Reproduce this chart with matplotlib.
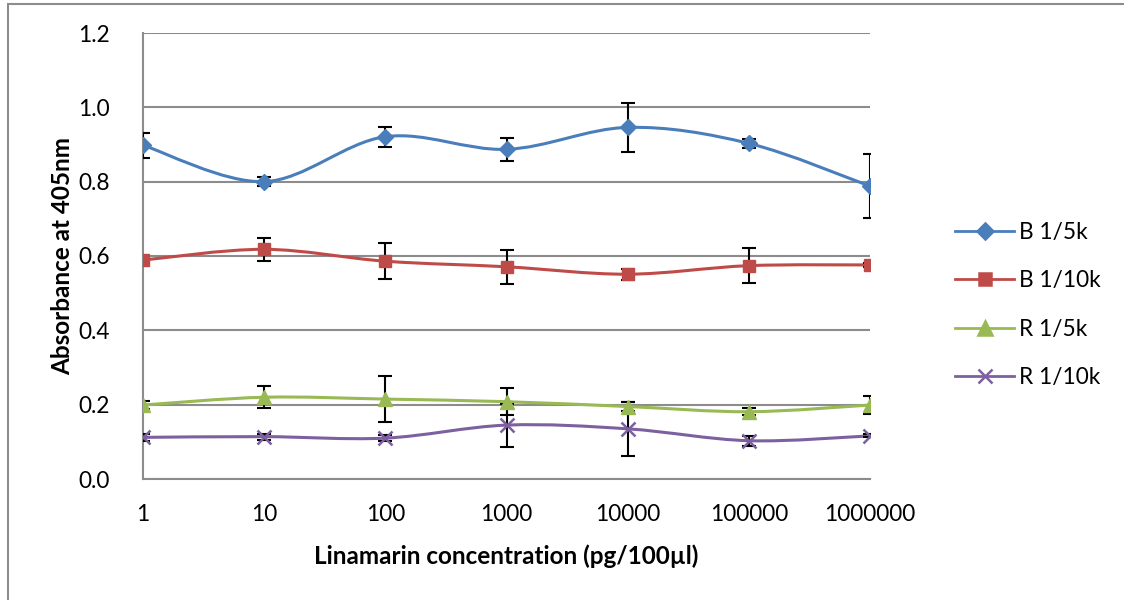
import numpy as np
import matplotlib.pyplot as plt
from matplotlib.path import Path
from matplotlib.patches import PathPatch, Rectangle
from matplotlib.lines import Line2D

plt.rcParams['font.family'] = ['Lato', 'DejaVu Sans']

# concentrations (pg/100ul) shown as category labels
concentrations = ['1', '10', '100', '1000', '10000', '100000', '1000000']

b_5k = [0.898, 0.800, 0.921, 0.887, 0.946, 0.903, 0.788]
b_5k_err = [0.034, 0.013, 0.027, 0.031, 0.065, 0.012, 0.087]

b_10k = [0.589, 0.618, 0.586, 0.571, 0.551, 0.574, 0.576]
b_10k_err = [0.010, 0.031, 0.049, 0.046, 0.015, 0.047, 0.005]

r_5k = [0.199, 0.220, 0.215, 0.208, 0.195, 0.181, 0.199]
r_5k_err = [0.010, 0.030, 0.061, 0.036, 0.012, 0.010, 0.025]

r_10k = [0.112, 0.114, 0.110, 0.145, 0.135, 0.103, 0.116]
r_10k_err = [0.010, 0.008, 0.008, 0.058, 0.072, 0.014, 0.004]

series = [
    ('B 1/5k', b_5k, b_5k_err, '#4a7ebb', 'D', 8),
    ('B 1/10k', b_10k, b_10k_err, '#be4b48', 's', 9),
    ('R 1/5k', r_5k, r_5k_err, '#98b954', '^', 10),
    ('R 1/10k', r_10k, r_10k_err, '#7d60a0', 'x', 10),
]


def smooth_path(x, y):
    # excel-like smoothed line: cubic bezier through the points
    pts = np.column_stack([x, y])
    n = len(pts)
    verts = [pts[0]]
    codes = [Path.MOVETO]
    for i in range(n - 1):
        p0 = pts[max(i - 1, 0)]
        p1 = pts[i]
        p2 = pts[i + 1]
        p3 = pts[min(i + 2, n - 1)]
        c1 = p1 + (p2 - p0) / 6
        c2 = p2 - (p3 - p1) / 6
        verts += [c1, c2, p2]
        codes += [Path.CURVE4] * 3
    return Path(verts, codes)


fig = plt.figure(figsize=(11.24, 6), dpi=100)
ax = fig.add_axes([143 / 1124, 1 - 479 / 600, (870 - 143) / 1124, (479 - 33) / 600])

# outer chart frame
fig.patches.append(Rectangle((8 / 1124, -0.01), 1.0, 1 - 4 / 600 + 0.01,
                             transform=fig.transFigure, fill=False,
                             edgecolor='#8c8c8c', linewidth=1.5))

x = np.arange(len(concentrations))
handles = []
for name, vals, err, col, mk, ms in series:
    patch = PathPatch(smooth_path(x, vals), facecolor='none', edgecolor=col,
                      linewidth=2.2, zorder=3)
    ax.add_patch(patch)
    ax.errorbar(x, vals, yerr=err, fmt='none', ecolor='black', elinewidth=1.5,
                capsize=5, capthick=1.5, zorder=4)
    if mk == 'x':
        ax.plot(x, vals, linestyle='none', marker=mk, markersize=ms,
                markeredgecolor=col, markeredgewidth=1.8, zorder=5)
    else:
        ax.plot(x, vals, linestyle='none', marker=mk, markersize=ms,
                markerfacecolor=col, markeredgecolor=col, zorder=5)
    handles.append(Line2D([], [], color=col, linewidth=2, marker=mk,
                          markersize=ms, markerfacecolor=col,
                          markeredgecolor=col, markeredgewidth=1.8, label=name))

ax.set_xlim(0, len(concentrations) - 1)
ax.set_ylim(0, 1.2)
ax.set_yticks(np.arange(0, 1.21, 0.2))
ax.set_yticklabels([f'{v:.1f}' for v in np.arange(0, 1.21, 0.2)])
ax.set_xticks(x)
ax.set_xticklabels(concentrations)
ax.tick_params(length=0, labelsize=16.3)
ax.tick_params(axis='x', pad=18)
ax.tick_params(axis='y', pad=24)
ax.grid(axis='y', color='#8c8c8c', linewidth=1.5)
ax.set_axisbelow(True)
for s in ['top', 'right']:
    ax.spines[s].set_visible(False)
for s in ['left', 'bottom']:
    ax.spines[s].set_color('#8c8c8c')
    ax.spines[s].set_linewidth(1.5)

ax.set_xlabel('Linamarin concentration (pg/100µl)', fontsize=17.5,
              fontweight='bold', labelpad=14)
ax.set_ylabel('Absorbance at 405nm', fontsize=17.5, fontweight='bold',
              labelpad=3)

fig.legend(handles=handles, loc='center left',
           bbox_to_anchor=(935 / 1124, 1 - 305 / 600), frameon=False,
           fontsize=16.3, handlelength=2.6, labelspacing=1.2,
           handletextpad=0.2)

fig.savefig('out.png', dpi=100)
